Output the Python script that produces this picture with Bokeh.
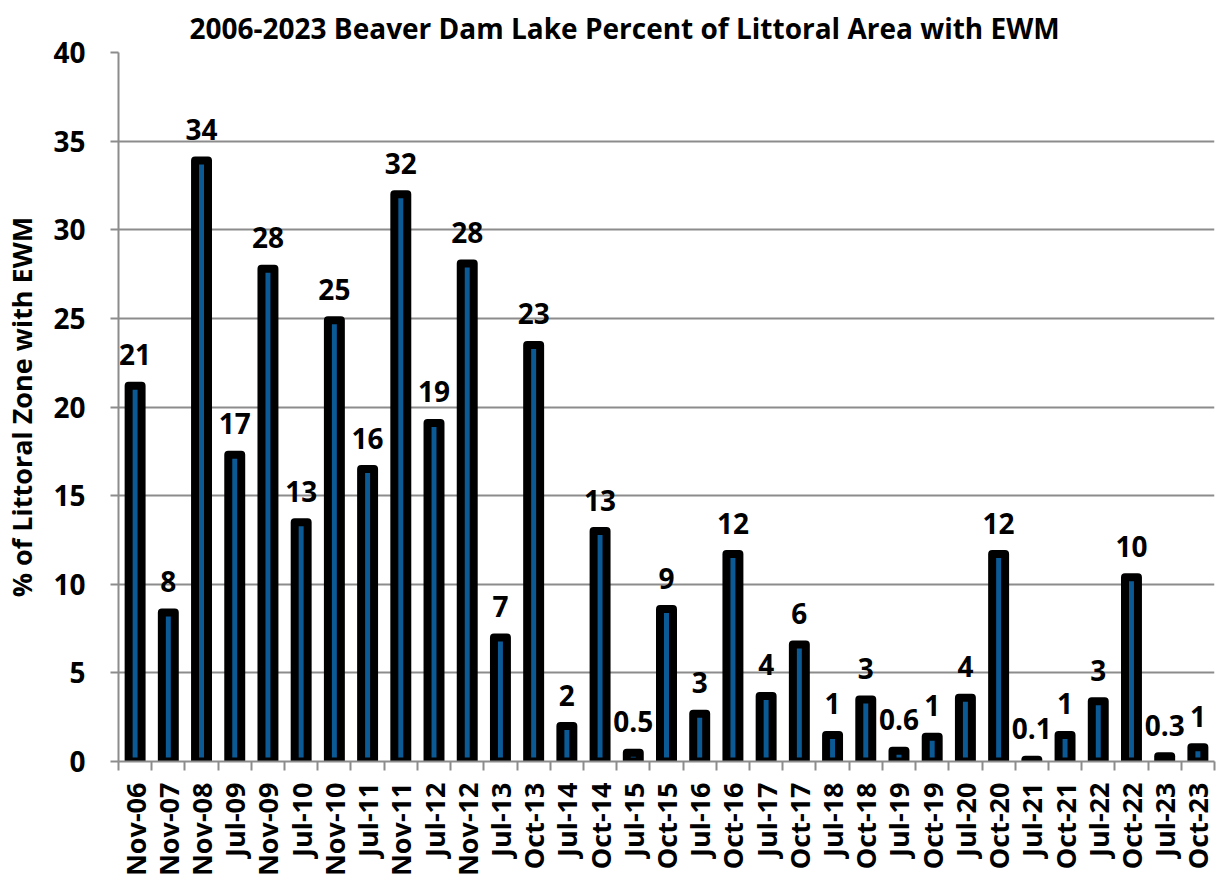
from math import pi
from bokeh.plotting import figure
from bokeh.models import ColumnDataSource, FixedTicker, Range1d
from bokeh.core.properties import value
from bokeh.embed import file_html
from bokeh.resources import INLINE

categories = ["Nov-06", "Nov-07", "Nov-08", "Jul-09", "Nov-09", "Jul-10", "Nov-10",
              "Jul-11", "Nov-11", "Jul-12", "Nov-12", "Jul-13", "Oct-13", "Jul-14",
              "Oct-14", "Jul-15", "Oct-15", "Jul-16", "Oct-16", "Jul-17", "Oct-17",
              "Jul-18", "Oct-18", "Jul-19", "Oct-19", "Jul-20", "Oct-20", "Jul-21",
              "Oct-21", "Jul-22", "Oct-22", "Jul-23", "Oct-23"]
values = [21.2, 8.4, 33.9, 17.3, 27.8, 13.5, 24.9, 16.5, 32.0, 19.1, 28.1, 7.0,
          23.5, 2.0, 13.0, 0.5, 8.6, 2.7, 11.7, 3.7, 6.6, 1.5, 3.5, 0.6, 1.4, 3.6,
          11.7, 0.1, 1.5, 3.4, 10.4, 0.3, 0.8]
labels = ["21", "8", "34", "17", "28", "13", "25", "16", "32", "19", "28", "7",
          "23", "2", "13", "0.5", "9", "3", "12", "4", "6", "1", "3", "0.6", "1", "4",
          "12", "0.1", "1", "3", "10", "0.3", "1"]
y_ticks = [0, 5, 10, 15, 20, 25, 30, 35, 40]

FONT = "Open Sans"
n = len(categories)
centers = [i + 0.5 for i in range(n)]

src = ColumnDataSource(dict(x=centers, top=values, label=labels, cat=categories))

p = figure(width=1218, height=886, output_backend="svg", toolbar_location=None,
           x_range=Range1d(0, n), y_range=Range1d(0, 40),
           min_border_left=116, min_border_right=4, min_border_top=50,
           min_border_bottom=125)

p.title.text = "2006-2023 Beaver Dam Lake Percent of Littoral Area with EWM"
p.title.align = "left"
p.title.text_font = FONT
p.title.text_font_size = "28px"
p.title.text_font_style = "bold"
p.title.text_color = "black"
p.title.offset = 71
p.title.standoff = 12

p.outline_line_color = None
p.background_fill_color = "white"

p.vbar(x="x", top="top", bottom=0, width=0.39, source=src,
       fill_color="#0B5A96", line_color="black", line_width=8, line_join="round")

p.text(x="x", y="top", text="label", source=src, text_align="center",
       text_baseline="alphabetic", y_offset=-31, text_font=value(FONT),
       text_font_size="28px", text_font_style="bold", text_color="black")

# x axis
xa = p.xaxis[0]
xa.ticker = FixedTicker(ticks=centers, minor_ticks=list(range(n + 1)))
xa.major_label_overrides = {c: lab for c, lab in zip(centers, categories)}
xa.major_label_orientation = pi / 2
xa.major_label_text_font = FONT
xa.major_label_text_font_size = "27px"
xa.major_label_text_font_style = "bold"
xa.major_label_text_color = "black"
xa.major_tick_line_color = None
xa.minor_tick_line_color = "#8c8c8c"
xa.minor_tick_line_width = 2
xa.minor_tick_out = 9
xa.minor_tick_in = 0
xa.axis_line_color = "#8c8c8c"
xa.axis_line_width = 2
xa.major_label_standoff = 12

# y axis
ya = p.yaxis[0]
ya.ticker = FixedTicker(ticks=y_ticks)
ya.axis_label = "% of Littoral Zone with EWM"
ya.axis_label_text_font = FONT
ya.axis_label_text_font_size = "27px"
ya.axis_label_text_font_style = "bold"
ya.axis_label_text_color = "black"
ya.axis_label_standoff = 10
ya.major_label_text_font = FONT
ya.major_label_text_font_size = "28px"
ya.major_label_text_font_style = "bold"
ya.major_label_text_color = "black"
ya.major_tick_line_color = "#8c8c8c"
ya.major_tick_line_width = 2
ya.major_tick_out = 8
ya.major_tick_in = 0
ya.minor_tick_line_color = None
ya.axis_line_color = "#8c8c8c"
ya.axis_line_width = 2
ya.major_label_standoff = 25

p.xgrid.grid_line_color = None
p.ygrid.grid_line_color = "#8c8c8c"
p.ygrid.grid_line_width = 2

open("out.html", "w").write(file_html(p, INLINE))
